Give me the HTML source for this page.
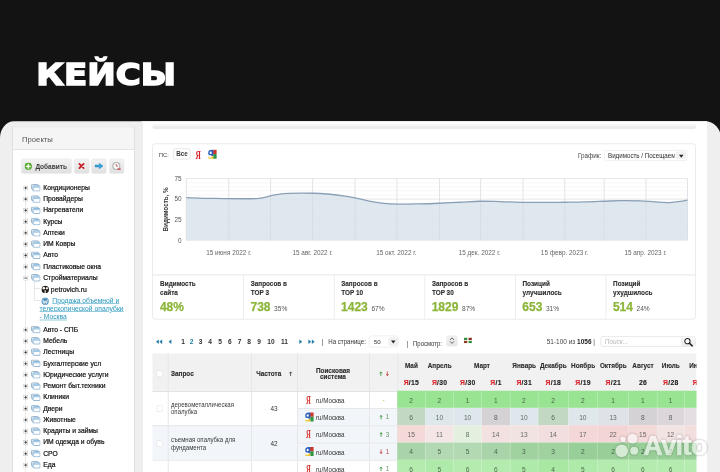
<!DOCTYPE html><html lang="ru"><head><meta charset="utf-8"><title>Кейсы</title><style>
*{box-sizing:border-box}
html,body{margin:0;padding:0}
body{width:2880px;height:1888px;overflow:hidden;background:#131313;position:relative;font-family:"Liberation Sans",sans-serif;color:#333}
#wrap{position:absolute;left:0;top:0;width:2880px;height:1888px;overflow:hidden}
.abs{position:absolute}
.t{position:absolute;white-space:nowrap;line-height:1}
h1{position:absolute;margin:0;left:145.2px;top:218px;font-family:"DejaVu Sans","Liberation Sans",sans-serif;font-weight:bold;font-size:124px;line-height:160px;color:#fff;letter-spacing:0;-webkit-text-stroke:6.2px #fff;transform:scaleX(1.097);transform-origin:0 0;white-space:nowrap}
#panel{position:absolute;left:0;top:484.8px;width:2884px;height:1440px;background:#efefef;border-radius:56px 64px 0 0 / 68px 68px 0 0;overflow:hidden}
#side{position:absolute;left:48px;top:506px;width:492px;height:1400px;background:#fff;border:4px solid #e0e0e0}
#sidehead{position:absolute;left:0;top:0;width:100%;height:90.4px;background:#f5f5f5;border-bottom:4px solid #e4e4e4}
#main{position:absolute;left:566.4px;top:484.8px;width:2261.6px;height:1440px;background:#fff;border-left:4px solid #e2e2e2}
.btn{position:absolute;top:635.2px;height:60px;border-radius:10px;background:linear-gradient(#f3f3f3,#e0e0e0);border:2.4px solid #dfdfdf}
.tree{font-size:27px;color:#111;-webkit-text-stroke-width:0.8px}
.card{position:absolute;background:#fff;border:4px solid #ebebeb}
.b{font-weight:bold}
.lbl{font-size:25.6px;font-weight:bold;color:#2c2c2c;-webkit-text-stroke-width:0.4px}
.big{font-size:48px;font-weight:bold;color:#8cb63a;-webkit-text-stroke-width:1px}
.pct{font-size:26.4px;color:#555}
.pg{font-size:26.4px;font-weight:bold;color:#333}
.th{font-size:25.6px;font-weight:bold;color:#2c2c2c;text-align:center;-webkit-text-stroke-width:0.48px}
.cell{position:absolute;font-size:26.4px;color:rgba(20,35,20,.66);text-align:center;line-height:76.4px;height:69.2px;overflow:hidden}
#outer{position:absolute;left:0;top:0;width:720px;height:472px;overflow:hidden;filter:contrast(1.0001)} #scaler{position:absolute;left:0;top:0;width:2880px;height:1888px;transform:scale(0.25);transform-origin:0 0}
body{width:720px;height:472px}</style></head><body>
<div id="outer"><div id="scaler"><div id="wrap">
<h1>КЕЙСЫ</h1>
<div id="panel"></div>
<div id="main"></div>
<div class="abs" style="left:610px;top:497.2px;width:2174px;height:18.4px;background:linear-gradient(#f5f5f5 0%,#f3f3f3 42%,#ececec 52%,#ececec 100%);border-radius:0 0 10px 10px"></div>
<div id="side"><div id="sidehead"></div></div>
<div class="t" style="left:88px;top:541.6px;font-size:30.8px;color:#555">Проекты</div>
<div class="btn" style="left:84px;width:204px"></div>
<div class="btn" style="left:296px;width:61.6px"></div>
<div class="btn" style="left:365.2px;width:61.2px"></div>
<div class="btn" style="left:436px;width:60.8px"></div>
<svg class="abs" style="left:98px;top:649.6px" width="30.4" height="30.4" viewBox="0 0 18 18"><circle cx="9" cy="9" r="8.2" fill="#62b437" stroke="#4a9a28" stroke-width="1.2"/><path d="M9 4.6v8.8M4.6 9h8.8" stroke="#fff" stroke-width="3" stroke-linecap="round"/></svg>
<div class="t b" style="left:141.6px;top:652px;font-size:26px;color:#3c3c3c">Добавить</div>
<svg class="abs" style="left:312.4px;top:650.4px" width="28" height="27.2" viewBox="0 0 14 14"><path d="M2.6 2.6L11.4 11.4M11.4 2.6L2.6 11.4" stroke="#c5222b" stroke-width="3.6" stroke-linecap="round"/></svg>
<svg class="abs" style="left:377.6px;top:651.2px" width="36" height="26.4" viewBox="0 0 18 13"><path d="M1 4.6h8.6V1L17 6.5l-7.4 5.5V8.4H1z" fill="#36a3dc" stroke="#2886bd" stroke-width="1"/></svg>
<svg class="abs" style="left:448px;top:647.2px" width="38.4" height="36" viewBox="0 0 20 19"><circle cx="9" cy="9" r="7.4" fill="#fafafa" stroke="#b4b4b4" stroke-width="2.4"/><path d="M9 4.8V9.4h3.6" stroke="#a83a3a" stroke-width="1.5" fill="none"/><path d="M11.6 15.4h6.6" stroke="#c4393d" stroke-width="2.6"/></svg>
<div class="abs" style="left:100.8px;top:751.6px;width:0;height:1200px;border-left:2.8px dotted #aaa"></div>
<svg class="abs" style="left:92.8px;top:742px" width="19.2" height="19.2" viewBox="0 0 10 10"><rect x="0.6" y="0.6" width="8.8" height="8.8" fill="#fff" stroke="#b9b9b9" stroke-width="1.1"/><path d="M2.2 5h5.6M5 2.2v5.6" stroke="#1a1a1a" stroke-width="1.5"/></svg>
<svg class="abs" style="left:124px;top:735.6px" width="38.4" height="30.4" viewBox="0 0 19 15"><rect x="1" y="1" width="13.5" height="9.5" rx="1.8" fill="#ddebf5" stroke="#86a7c2" stroke-width="1.5"/><rect x="4.2" y="3.8" width="13.8" height="10.2" rx="1.8" fill="#fff" stroke="#6f9fc6" stroke-width="1.5"/><rect x="5" y="4.6" width="12.2" height="2.8" fill="#9fc9e8"/></svg>
<div class="t tree" style="left:172.8px;top:736.8px">Кондиционеры</div>
<svg class="abs" style="left:92.8px;top:787.08px" width="19.2" height="19.2" viewBox="0 0 10 10"><rect x="0.6" y="0.6" width="8.8" height="8.8" fill="#fff" stroke="#b9b9b9" stroke-width="1.1"/><path d="M2.2 5h5.6M5 2.2v5.6" stroke="#1a1a1a" stroke-width="1.5"/></svg>
<svg class="abs" style="left:124px;top:780.68px" width="38.4" height="30.4" viewBox="0 0 19 15"><rect x="1" y="1" width="13.5" height="9.5" rx="1.8" fill="#ddebf5" stroke="#86a7c2" stroke-width="1.5"/><rect x="4.2" y="3.8" width="13.8" height="10.2" rx="1.8" fill="#fff" stroke="#6f9fc6" stroke-width="1.5"/><rect x="5" y="4.6" width="12.2" height="2.8" fill="#9fc9e8"/></svg>
<div class="t tree" style="left:172.8px;top:781.88px">Провайдеры</div>
<svg class="abs" style="left:92.8px;top:832.16px" width="19.2" height="19.2" viewBox="0 0 10 10"><rect x="0.6" y="0.6" width="8.8" height="8.8" fill="#fff" stroke="#b9b9b9" stroke-width="1.1"/><path d="M2.2 5h5.6M5 2.2v5.6" stroke="#1a1a1a" stroke-width="1.5"/></svg>
<svg class="abs" style="left:124px;top:825.76px" width="38.4" height="30.4" viewBox="0 0 19 15"><rect x="1" y="1" width="13.5" height="9.5" rx="1.8" fill="#ddebf5" stroke="#86a7c2" stroke-width="1.5"/><rect x="4.2" y="3.8" width="13.8" height="10.2" rx="1.8" fill="#fff" stroke="#6f9fc6" stroke-width="1.5"/><rect x="5" y="4.6" width="12.2" height="2.8" fill="#9fc9e8"/></svg>
<div class="t tree" style="left:172.8px;top:826.96px">Нагреватели</div>
<svg class="abs" style="left:92.8px;top:877.24px" width="19.2" height="19.2" viewBox="0 0 10 10"><rect x="0.6" y="0.6" width="8.8" height="8.8" fill="#fff" stroke="#b9b9b9" stroke-width="1.1"/><path d="M2.2 5h5.6M5 2.2v5.6" stroke="#1a1a1a" stroke-width="1.5"/></svg>
<svg class="abs" style="left:124px;top:870.84px" width="38.4" height="30.4" viewBox="0 0 19 15"><rect x="1" y="1" width="13.5" height="9.5" rx="1.8" fill="#ddebf5" stroke="#86a7c2" stroke-width="1.5"/><rect x="4.2" y="3.8" width="13.8" height="10.2" rx="1.8" fill="#fff" stroke="#6f9fc6" stroke-width="1.5"/><rect x="5" y="4.6" width="12.2" height="2.8" fill="#9fc9e8"/></svg>
<div class="t tree" style="left:172.8px;top:872.04px">Курсы</div>
<svg class="abs" style="left:92.8px;top:922.32px" width="19.2" height="19.2" viewBox="0 0 10 10"><rect x="0.6" y="0.6" width="8.8" height="8.8" fill="#fff" stroke="#b9b9b9" stroke-width="1.1"/><path d="M2.2 5h5.6M5 2.2v5.6" stroke="#1a1a1a" stroke-width="1.5"/></svg>
<svg class="abs" style="left:124px;top:915.92px" width="38.4" height="30.4" viewBox="0 0 19 15"><rect x="1" y="1" width="13.5" height="9.5" rx="1.8" fill="#ddebf5" stroke="#86a7c2" stroke-width="1.5"/><rect x="4.2" y="3.8" width="13.8" height="10.2" rx="1.8" fill="#fff" stroke="#6f9fc6" stroke-width="1.5"/><rect x="5" y="4.6" width="12.2" height="2.8" fill="#9fc9e8"/></svg>
<div class="t tree" style="left:172.8px;top:917.12px">Аптеки</div>
<svg class="abs" style="left:92.8px;top:967.4px" width="19.2" height="19.2" viewBox="0 0 10 10"><rect x="0.6" y="0.6" width="8.8" height="8.8" fill="#fff" stroke="#b9b9b9" stroke-width="1.1"/><path d="M2.2 5h5.6M5 2.2v5.6" stroke="#1a1a1a" stroke-width="1.5"/></svg>
<svg class="abs" style="left:124px;top:961px" width="38.4" height="30.4" viewBox="0 0 19 15"><rect x="1" y="1" width="13.5" height="9.5" rx="1.8" fill="#ddebf5" stroke="#86a7c2" stroke-width="1.5"/><rect x="4.2" y="3.8" width="13.8" height="10.2" rx="1.8" fill="#fff" stroke="#6f9fc6" stroke-width="1.5"/><rect x="5" y="4.6" width="12.2" height="2.8" fill="#9fc9e8"/></svg>
<div class="t tree" style="left:172.8px;top:962.2px">ИМ Ковры</div>
<svg class="abs" style="left:92.8px;top:1012.48px" width="19.2" height="19.2" viewBox="0 0 10 10"><rect x="0.6" y="0.6" width="8.8" height="8.8" fill="#fff" stroke="#b9b9b9" stroke-width="1.1"/><path d="M2.2 5h5.6M5 2.2v5.6" stroke="#1a1a1a" stroke-width="1.5"/></svg>
<svg class="abs" style="left:124px;top:1006.08px" width="38.4" height="30.4" viewBox="0 0 19 15"><rect x="1" y="1" width="13.5" height="9.5" rx="1.8" fill="#ddebf5" stroke="#86a7c2" stroke-width="1.5"/><rect x="4.2" y="3.8" width="13.8" height="10.2" rx="1.8" fill="#fff" stroke="#6f9fc6" stroke-width="1.5"/><rect x="5" y="4.6" width="12.2" height="2.8" fill="#9fc9e8"/></svg>
<div class="t tree" style="left:172.8px;top:1007.28px">Авто</div>
<svg class="abs" style="left:92.8px;top:1057.56px" width="19.2" height="19.2" viewBox="0 0 10 10"><rect x="0.6" y="0.6" width="8.8" height="8.8" fill="#fff" stroke="#b9b9b9" stroke-width="1.1"/><path d="M2.2 5h5.6M5 2.2v5.6" stroke="#1a1a1a" stroke-width="1.5"/></svg>
<svg class="abs" style="left:124px;top:1051.16px" width="38.4" height="30.4" viewBox="0 0 19 15"><rect x="1" y="1" width="13.5" height="9.5" rx="1.8" fill="#ddebf5" stroke="#86a7c2" stroke-width="1.5"/><rect x="4.2" y="3.8" width="13.8" height="10.2" rx="1.8" fill="#fff" stroke="#6f9fc6" stroke-width="1.5"/><rect x="5" y="4.6" width="12.2" height="2.8" fill="#9fc9e8"/></svg>
<div class="t tree" style="left:172.8px;top:1052.36px">Пластиковые окна</div>
<svg class="abs" style="left:92.8px;top:1102.64px" width="19.2" height="19.2" viewBox="0 0 10 10"><rect x="0.6" y="0.6" width="8.8" height="8.8" fill="#fff" stroke="#b9b9b9" stroke-width="1.1"/><path d="M2.2 5h5.6" stroke="#1a1a1a" stroke-width="1.5"/></svg>
<svg class="abs" style="left:124px;top:1096.24px" width="38.4" height="30.4" viewBox="0 0 19 15"><rect x="1" y="1" width="13.5" height="9.5" rx="1.8" fill="#ddebf5" stroke="#86a7c2" stroke-width="1.5"/><rect x="4.2" y="3.8" width="13.8" height="10.2" rx="1.8" fill="#fff" stroke="#6f9fc6" stroke-width="1.5"/><rect x="5" y="4.6" width="12.2" height="2.8" fill="#9fc9e8"/></svg>
<div class="t tree" style="left:172.8px;top:1097.44px">Стройматериалы</div>
<div class="abs" style="left:137.6px;top:1128px;width:0;height:73.6px;border-left:2.8px solid #cfcfcf"></div>
<div class="abs" style="left:137.6px;top:1154.4px;width:24px;height:0;border-top:2.8px solid #cfcfcf"></div>
<div class="abs" style="left:137.6px;top:1200.8px;width:24px;height:0;border-top:2.8px solid #cfcfcf"></div>
<svg class="abs" style="left:164.8px;top:1141.72px" width="32" height="31.2" viewBox="0 0 16 16"><circle cx="8" cy="8" r="7.6" fill="#1c1816"/><ellipse cx="5" cy="5.4" rx="2.6" ry="3" fill="#f4f0ec"/><ellipse cx="11.4" cy="5.6" rx="2.2" ry="2.6" fill="#e9e2dc"/><path d="M6.6 9.5h2.8l0.6 5.5h-4z" fill="#d9c4b8"/></svg>
<div class="t tree" style="left:203.2px;top:1145.32px;font-size:27.6px">petrovich.ru</div>
<svg class="abs" style="left:164.8px;top:1188.8px" width="31.2" height="31.2" viewBox="0 0 16 16"><circle cx="8" cy="8" r="7.4" fill="#3c82b4"/><circle cx="8" cy="8" r="6" fill="none" stroke="#e8f1f7" stroke-width="0.9"/><path d="M3.4 5.6l2.5 6.8 2.1-5.4 2.1 5.4 2.5-6.8" fill="none" stroke="#fff" stroke-width="1.7"/></svg>
<div class="abs tree" style="left:158.4px;top:1185.6px;width:392px;line-height:33.2px;color:#2696bd;-webkit-text-stroke-width:0;text-decoration:underline;text-indent:50.8px;white-space:nowrap">Продажа объемной и<br>телескопической опалубки<br>- Москва</div>
<svg class="abs" style="left:92.8px;top:1309.6px" width="19.2" height="19.2" viewBox="0 0 10 10"><rect x="0.6" y="0.6" width="8.8" height="8.8" fill="#fff" stroke="#b9b9b9" stroke-width="1.1"/><path d="M2.2 5h5.6M5 2.2v5.6" stroke="#1a1a1a" stroke-width="1.5"/></svg>
<svg class="abs" style="left:124px;top:1303.2px" width="38.4" height="30.4" viewBox="0 0 19 15"><rect x="1" y="1" width="13.5" height="9.5" rx="1.8" fill="#ddebf5" stroke="#86a7c2" stroke-width="1.5"/><rect x="4.2" y="3.8" width="13.8" height="10.2" rx="1.8" fill="#fff" stroke="#6f9fc6" stroke-width="1.5"/><rect x="5" y="4.6" width="12.2" height="2.8" fill="#9fc9e8"/></svg>
<div class="t tree" style="left:172.8px;top:1304.4px">Авто - СПБ</div>
<svg class="abs" style="left:92.8px;top:1354.68px" width="19.2" height="19.2" viewBox="0 0 10 10"><rect x="0.6" y="0.6" width="8.8" height="8.8" fill="#fff" stroke="#b9b9b9" stroke-width="1.1"/><path d="M2.2 5h5.6M5 2.2v5.6" stroke="#1a1a1a" stroke-width="1.5"/></svg>
<svg class="abs" style="left:124px;top:1348.28px" width="38.4" height="30.4" viewBox="0 0 19 15"><rect x="1" y="1" width="13.5" height="9.5" rx="1.8" fill="#ddebf5" stroke="#86a7c2" stroke-width="1.5"/><rect x="4.2" y="3.8" width="13.8" height="10.2" rx="1.8" fill="#fff" stroke="#6f9fc6" stroke-width="1.5"/><rect x="5" y="4.6" width="12.2" height="2.8" fill="#9fc9e8"/></svg>
<div class="t tree" style="left:172.8px;top:1349.48px">Мебель</div>
<svg class="abs" style="left:92.8px;top:1399.76px" width="19.2" height="19.2" viewBox="0 0 10 10"><rect x="0.6" y="0.6" width="8.8" height="8.8" fill="#fff" stroke="#b9b9b9" stroke-width="1.1"/><path d="M2.2 5h5.6M5 2.2v5.6" stroke="#1a1a1a" stroke-width="1.5"/></svg>
<svg class="abs" style="left:124px;top:1393.36px" width="38.4" height="30.4" viewBox="0 0 19 15"><rect x="1" y="1" width="13.5" height="9.5" rx="1.8" fill="#ddebf5" stroke="#86a7c2" stroke-width="1.5"/><rect x="4.2" y="3.8" width="13.8" height="10.2" rx="1.8" fill="#fff" stroke="#6f9fc6" stroke-width="1.5"/><rect x="5" y="4.6" width="12.2" height="2.8" fill="#9fc9e8"/></svg>
<div class="t tree" style="left:172.8px;top:1394.56px">Лестницы</div>
<svg class="abs" style="left:92.8px;top:1444.84px" width="19.2" height="19.2" viewBox="0 0 10 10"><rect x="0.6" y="0.6" width="8.8" height="8.8" fill="#fff" stroke="#b9b9b9" stroke-width="1.1"/><path d="M2.2 5h5.6M5 2.2v5.6" stroke="#1a1a1a" stroke-width="1.5"/></svg>
<svg class="abs" style="left:124px;top:1438.44px" width="38.4" height="30.4" viewBox="0 0 19 15"><rect x="1" y="1" width="13.5" height="9.5" rx="1.8" fill="#ddebf5" stroke="#86a7c2" stroke-width="1.5"/><rect x="4.2" y="3.8" width="13.8" height="10.2" rx="1.8" fill="#fff" stroke="#6f9fc6" stroke-width="1.5"/><rect x="5" y="4.6" width="12.2" height="2.8" fill="#9fc9e8"/></svg>
<div class="t tree" style="left:172.8px;top:1439.64px">Бухгалтерские усл</div>
<svg class="abs" style="left:92.8px;top:1489.92px" width="19.2" height="19.2" viewBox="0 0 10 10"><rect x="0.6" y="0.6" width="8.8" height="8.8" fill="#fff" stroke="#b9b9b9" stroke-width="1.1"/><path d="M2.2 5h5.6M5 2.2v5.6" stroke="#1a1a1a" stroke-width="1.5"/></svg>
<svg class="abs" style="left:124px;top:1483.52px" width="38.4" height="30.4" viewBox="0 0 19 15"><rect x="1" y="1" width="13.5" height="9.5" rx="1.8" fill="#ddebf5" stroke="#86a7c2" stroke-width="1.5"/><rect x="4.2" y="3.8" width="13.8" height="10.2" rx="1.8" fill="#fff" stroke="#6f9fc6" stroke-width="1.5"/><rect x="5" y="4.6" width="12.2" height="2.8" fill="#9fc9e8"/></svg>
<div class="t tree" style="left:172.8px;top:1484.72px">Юридические услуги</div>
<svg class="abs" style="left:92.8px;top:1535px" width="19.2" height="19.2" viewBox="0 0 10 10"><rect x="0.6" y="0.6" width="8.8" height="8.8" fill="#fff" stroke="#b9b9b9" stroke-width="1.1"/><path d="M2.2 5h5.6M5 2.2v5.6" stroke="#1a1a1a" stroke-width="1.5"/></svg>
<svg class="abs" style="left:124px;top:1528.6px" width="38.4" height="30.4" viewBox="0 0 19 15"><rect x="1" y="1" width="13.5" height="9.5" rx="1.8" fill="#ddebf5" stroke="#86a7c2" stroke-width="1.5"/><rect x="4.2" y="3.8" width="13.8" height="10.2" rx="1.8" fill="#fff" stroke="#6f9fc6" stroke-width="1.5"/><rect x="5" y="4.6" width="12.2" height="2.8" fill="#9fc9e8"/></svg>
<div class="t tree" style="left:172.8px;top:1529.8px">Ремонт быт.техники</div>
<svg class="abs" style="left:92.8px;top:1580.08px" width="19.2" height="19.2" viewBox="0 0 10 10"><rect x="0.6" y="0.6" width="8.8" height="8.8" fill="#fff" stroke="#b9b9b9" stroke-width="1.1"/><path d="M2.2 5h5.6M5 2.2v5.6" stroke="#1a1a1a" stroke-width="1.5"/></svg>
<svg class="abs" style="left:124px;top:1573.68px" width="38.4" height="30.4" viewBox="0 0 19 15"><rect x="1" y="1" width="13.5" height="9.5" rx="1.8" fill="#ddebf5" stroke="#86a7c2" stroke-width="1.5"/><rect x="4.2" y="3.8" width="13.8" height="10.2" rx="1.8" fill="#fff" stroke="#6f9fc6" stroke-width="1.5"/><rect x="5" y="4.6" width="12.2" height="2.8" fill="#9fc9e8"/></svg>
<div class="t tree" style="left:172.8px;top:1574.88px">Клиники</div>
<svg class="abs" style="left:92.8px;top:1625.16px" width="19.2" height="19.2" viewBox="0 0 10 10"><rect x="0.6" y="0.6" width="8.8" height="8.8" fill="#fff" stroke="#b9b9b9" stroke-width="1.1"/><path d="M2.2 5h5.6M5 2.2v5.6" stroke="#1a1a1a" stroke-width="1.5"/></svg>
<svg class="abs" style="left:124px;top:1618.76px" width="38.4" height="30.4" viewBox="0 0 19 15"><rect x="1" y="1" width="13.5" height="9.5" rx="1.8" fill="#ddebf5" stroke="#86a7c2" stroke-width="1.5"/><rect x="4.2" y="3.8" width="13.8" height="10.2" rx="1.8" fill="#fff" stroke="#6f9fc6" stroke-width="1.5"/><rect x="5" y="4.6" width="12.2" height="2.8" fill="#9fc9e8"/></svg>
<div class="t tree" style="left:172.8px;top:1619.96px">Двери</div>
<svg class="abs" style="left:92.8px;top:1670.24px" width="19.2" height="19.2" viewBox="0 0 10 10"><rect x="0.6" y="0.6" width="8.8" height="8.8" fill="#fff" stroke="#b9b9b9" stroke-width="1.1"/><path d="M2.2 5h5.6M5 2.2v5.6" stroke="#1a1a1a" stroke-width="1.5"/></svg>
<svg class="abs" style="left:124px;top:1663.84px" width="38.4" height="30.4" viewBox="0 0 19 15"><rect x="1" y="1" width="13.5" height="9.5" rx="1.8" fill="#ddebf5" stroke="#86a7c2" stroke-width="1.5"/><rect x="4.2" y="3.8" width="13.8" height="10.2" rx="1.8" fill="#fff" stroke="#6f9fc6" stroke-width="1.5"/><rect x="5" y="4.6" width="12.2" height="2.8" fill="#9fc9e8"/></svg>
<div class="t tree" style="left:172.8px;top:1665.04px">Животные</div>
<svg class="abs" style="left:92.8px;top:1715.32px" width="19.2" height="19.2" viewBox="0 0 10 10"><rect x="0.6" y="0.6" width="8.8" height="8.8" fill="#fff" stroke="#b9b9b9" stroke-width="1.1"/><path d="M2.2 5h5.6M5 2.2v5.6" stroke="#1a1a1a" stroke-width="1.5"/></svg>
<svg class="abs" style="left:124px;top:1708.92px" width="38.4" height="30.4" viewBox="0 0 19 15"><rect x="1" y="1" width="13.5" height="9.5" rx="1.8" fill="#ddebf5" stroke="#86a7c2" stroke-width="1.5"/><rect x="4.2" y="3.8" width="13.8" height="10.2" rx="1.8" fill="#fff" stroke="#6f9fc6" stroke-width="1.5"/><rect x="5" y="4.6" width="12.2" height="2.8" fill="#9fc9e8"/></svg>
<div class="t tree" style="left:172.8px;top:1710.12px">Крадиты и займы</div>
<svg class="abs" style="left:92.8px;top:1760.4px" width="19.2" height="19.2" viewBox="0 0 10 10"><rect x="0.6" y="0.6" width="8.8" height="8.8" fill="#fff" stroke="#b9b9b9" stroke-width="1.1"/><path d="M2.2 5h5.6M5 2.2v5.6" stroke="#1a1a1a" stroke-width="1.5"/></svg>
<svg class="abs" style="left:124px;top:1754px" width="38.4" height="30.4" viewBox="0 0 19 15"><rect x="1" y="1" width="13.5" height="9.5" rx="1.8" fill="#ddebf5" stroke="#86a7c2" stroke-width="1.5"/><rect x="4.2" y="3.8" width="13.8" height="10.2" rx="1.8" fill="#fff" stroke="#6f9fc6" stroke-width="1.5"/><rect x="5" y="4.6" width="12.2" height="2.8" fill="#9fc9e8"/></svg>
<div class="t tree" style="left:172.8px;top:1755.2px">ИМ одежда и обувь</div>
<svg class="abs" style="left:92.8px;top:1805.48px" width="19.2" height="19.2" viewBox="0 0 10 10"><rect x="0.6" y="0.6" width="8.8" height="8.8" fill="#fff" stroke="#b9b9b9" stroke-width="1.1"/><path d="M2.2 5h5.6M5 2.2v5.6" stroke="#1a1a1a" stroke-width="1.5"/></svg>
<svg class="abs" style="left:124px;top:1799.08px" width="38.4" height="30.4" viewBox="0 0 19 15"><rect x="1" y="1" width="13.5" height="9.5" rx="1.8" fill="#ddebf5" stroke="#86a7c2" stroke-width="1.5"/><rect x="4.2" y="3.8" width="13.8" height="10.2" rx="1.8" fill="#fff" stroke="#6f9fc6" stroke-width="1.5"/><rect x="5" y="4.6" width="12.2" height="2.8" fill="#9fc9e8"/></svg>
<div class="t tree" style="left:172.8px;top:1800.28px">СРО</div>
<svg class="abs" style="left:92.8px;top:1850.56px" width="19.2" height="19.2" viewBox="0 0 10 10"><rect x="0.6" y="0.6" width="8.8" height="8.8" fill="#fff" stroke="#b9b9b9" stroke-width="1.1"/><path d="M2.2 5h5.6M5 2.2v5.6" stroke="#1a1a1a" stroke-width="1.5"/></svg>
<svg class="abs" style="left:124px;top:1844.16px" width="38.4" height="30.4" viewBox="0 0 19 15"><rect x="1" y="1" width="13.5" height="9.5" rx="1.8" fill="#ddebf5" stroke="#86a7c2" stroke-width="1.5"/><rect x="4.2" y="3.8" width="13.8" height="10.2" rx="1.8" fill="#fff" stroke="#6f9fc6" stroke-width="1.5"/><rect x="5" y="4.6" width="12.2" height="2.8" fill="#9fc9e8"/></svg>
<div class="t tree" style="left:172.8px;top:1845.36px">Еда</div>
<svg class="abs" style="left:92.8px;top:1895.64px" width="19.2" height="19.2" viewBox="0 0 10 10"><rect x="0.6" y="0.6" width="8.8" height="8.8" fill="#fff" stroke="#b9b9b9" stroke-width="1.1"/><path d="M2.2 5h5.6M5 2.2v5.6" stroke="#1a1a1a" stroke-width="1.5"/></svg>
<svg class="abs" style="left:124px;top:1889.24px" width="38.4" height="30.4" viewBox="0 0 19 15"><rect x="1" y="1" width="13.5" height="9.5" rx="1.8" fill="#ddebf5" stroke="#86a7c2" stroke-width="1.5"/><rect x="4.2" y="3.8" width="13.8" height="10.2" rx="1.8" fill="#fff" stroke="#6f9fc6" stroke-width="1.5"/><rect x="5" y="4.6" width="12.2" height="2.8" fill="#9fc9e8"/></svg>
<div class="card" style="left:608.4px;top:572.8px;width:2175.6px;height:529.6px;border-radius:12px 12px 0 0"></div>
<div class="t" style="left:635.2px;top:607.6px;font-size:23.6px;color:#444">ПС:</div>
<div class="abs" style="left:692px;top:592.8px;width:70.4px;height:45.6px;border:3.2px solid #e0e0e0;border-radius:10px;background:#fff"></div>
<div class="t b" style="left:705.2px;top:603.2px;font-size:25.2px;color:#3a3a3a">Все</div>
<div class="t b" style="left:781.6px;top:595.6px;font-size:47.2px;color:#d3222a;font-family:'Liberation Serif',serif;transform:scaleX(.62);transform-origin:0 0">Я</div>
<svg class="abs" style="left:830px;top:596.8px" width="38.4" height="40" viewBox="0 0 20 20" preserveAspectRatio="none"><rect x="0.5" y="0.5" width="19" height="19" rx="2" fill="#fff"/><rect x="11.5" y="1" width="7.5" height="8.5" fill="#cb3a30"/><rect x="12" y="9.5" width="7" height="9.5" fill="#2f9444"/><rect x="2" y="14" width="10" height="5" fill="#ecc530"/><path d="M1.5 6.5C1.5 3 4 1 8 1h4v12.5H7C3.5 13.5 1.5 11 1.5 8z" fill="#2f62b8"/><ellipse cx="6.6" cy="7" rx="2.2" ry="2.6" fill="#fff"/><ellipse cx="5.6" cy="14.4" rx="3.4" ry="2.3" fill="#fff"/></svg>
<div class="t" style="left:2312px;top:608px;font-size:27.2px;color:#444;transform:scaleX(.925);transform-origin:0 0">График:</div>
<div class="abs" style="left:2416px;top:600px;width:334.4px;height:44px;border:3.2px solid #ebebeb;border-radius:10px;background:#fff;overflow:hidden"><div class="abs" style="left:284px;top:3.2px;width:41.6px;height:31.2px;border-radius:8px;background:#f1f1f1"></div><div class="t" style="left:12.8px;top:8.4px;font-size:26.8px;color:#2e2e2e;width:288px;overflow:hidden;transform:scaleX(.925);transform-origin:0 0">Видимость / Посещаемость</div><div class="abs" style="left:296.8px;top:16px;width:0;height:0;border-left:9.6px solid transparent;border-right:9.6px solid transparent;border-top:12.8px solid #222"></div></div>
<svg class="abs" style="left:0;top:0" width="2880" height="1888" viewBox="0 0 720 472"><line x1="186.3" x2="687.5" y1="236.09" y2="236.09" stroke="#f1f1f1" stroke-width="0.6"/><line x1="186.3" x2="687.5" y1="231.99" y2="231.99" stroke="#f1f1f1" stroke-width="0.6"/><line x1="186.3" x2="687.5" y1="227.88" y2="227.88" stroke="#f1f1f1" stroke-width="0.6"/><line x1="186.3" x2="687.5" y1="223.77" y2="223.77" stroke="#f1f1f1" stroke-width="0.6"/><line x1="186.3" x2="687.5" y1="215.56" y2="215.56" stroke="#f1f1f1" stroke-width="0.6"/><line x1="186.3" x2="687.5" y1="211.45" y2="211.45" stroke="#f1f1f1" stroke-width="0.6"/><line x1="186.3" x2="687.5" y1="207.35" y2="207.35" stroke="#f1f1f1" stroke-width="0.6"/><line x1="186.3" x2="687.5" y1="203.24" y2="203.24" stroke="#f1f1f1" stroke-width="0.6"/><line x1="186.3" x2="687.5" y1="195.03" y2="195.03" stroke="#f1f1f1" stroke-width="0.6"/><line x1="186.3" x2="687.5" y1="190.92" y2="190.92" stroke="#f1f1f1" stroke-width="0.6"/><line x1="186.3" x2="687.5" y1="186.81" y2="186.81" stroke="#f1f1f1" stroke-width="0.6"/><line x1="186.3" x2="687.5" y1="182.71" y2="182.71" stroke="#f1f1f1" stroke-width="0.6"/><line x1="186.3" x2="687.5" y1="240.20" y2="240.20" stroke="#dcdcdc" stroke-width="0.7"/><line x1="186.3" x2="687.5" y1="219.67" y2="219.67" stroke="#dcdcdc" stroke-width="0.7"/><line x1="186.3" x2="687.5" y1="199.13" y2="199.13" stroke="#dcdcdc" stroke-width="0.7"/><line x1="186.3" x2="687.5" y1="178.60" y2="178.60" stroke="#dcdcdc" stroke-width="0.7"/><path d="M186.30 197.65 C191.08 197.78 204.38 198.27 215.00 198.45 C225.62 198.63 242.17 198.83 250.00 198.75 C257.83 198.67 257.83 198.60 262.00 197.95 C266.17 197.30 270.67 195.60 275.00 194.85 C279.33 194.10 281.83 193.72 288.00 193.45 C294.17 193.18 305.00 193.12 312.00 193.25 C319.00 193.38 324.50 193.78 330.00 194.25 C335.50 194.72 340.83 195.45 345.00 196.05 C349.17 196.65 351.17 197.05 355.00 197.85 C358.83 198.65 363.83 200.02 368.00 200.85 C372.17 201.68 375.17 202.32 380.00 202.85 C384.83 203.38 390.33 203.88 397.00 204.05 C403.67 204.22 413.00 203.98 420.00 203.85 C427.00 203.72 432.33 203.52 439.00 203.25 C445.67 202.98 453.17 202.58 460.00 202.25 C466.83 201.92 473.33 201.37 480.00 201.25 C486.67 201.13 492.83 201.37 500.00 201.55 C507.17 201.73 515.50 202.20 523.00 202.35 C530.50 202.50 538.00 202.47 545.00 202.45 C552.00 202.43 558.33 202.33 565.00 202.25 C571.67 202.17 578.50 202.12 585.00 201.95 C591.50 201.78 598.17 201.47 604.00 201.25 C609.83 201.03 614.00 200.72 620.00 200.65 C626.00 200.58 634.17 200.65 640.00 200.85 C645.83 201.05 650.00 201.57 655.00 201.85 C660.00 202.13 665.83 202.62 670.00 202.55 C674.17 202.48 677.08 201.87 680.00 201.45 C682.92 201.03 686.25 200.28 687.50 200.05 L687.50 240.20 L186.30 240.20 Z" fill="#dde6ee" fill-opacity="0.92"/><line x1="186.3" x2="186.3" y1="178.60" y2="240.20" stroke="#d4d9de" stroke-width="0.7"/><line x1="228.8" x2="228.8" y1="178.60" y2="240.20" stroke="#d4d9de" stroke-width="0.7"/><line x1="270.6" x2="270.6" y1="178.60" y2="240.20" stroke="#d4d9de" stroke-width="0.7"/><line x1="312.6" x2="312.6" y1="178.60" y2="240.20" stroke="#d4d9de" stroke-width="0.7"/><line x1="355.0" x2="355.0" y1="178.60" y2="240.20" stroke="#d4d9de" stroke-width="0.7"/><line x1="397.0" x2="397.0" y1="178.60" y2="240.20" stroke="#d4d9de" stroke-width="0.7"/><line x1="439.5" x2="439.5" y1="178.60" y2="240.20" stroke="#d4d9de" stroke-width="0.7"/><line x1="480.6" x2="480.6" y1="178.60" y2="240.20" stroke="#d4d9de" stroke-width="0.7"/><line x1="523.0" x2="523.0" y1="178.60" y2="240.20" stroke="#d4d9de" stroke-width="0.7"/><line x1="564.8" x2="564.8" y1="178.60" y2="240.20" stroke="#d4d9de" stroke-width="0.7"/><line x1="604.2" x2="604.2" y1="178.60" y2="240.20" stroke="#d4d9de" stroke-width="0.7"/><line x1="646.0" x2="646.0" y1="178.60" y2="240.20" stroke="#d4d9de" stroke-width="0.7"/><line x1="687.5" x2="687.5" y1="178.60" y2="240.20" stroke="#d4d9de" stroke-width="0.7"/><path d="M186.30 197.65 C191.08 197.78 204.38 198.27 215.00 198.45 C225.62 198.63 242.17 198.83 250.00 198.75 C257.83 198.67 257.83 198.60 262.00 197.95 C266.17 197.30 270.67 195.60 275.00 194.85 C279.33 194.10 281.83 193.72 288.00 193.45 C294.17 193.18 305.00 193.12 312.00 193.25 C319.00 193.38 324.50 193.78 330.00 194.25 C335.50 194.72 340.83 195.45 345.00 196.05 C349.17 196.65 351.17 197.05 355.00 197.85 C358.83 198.65 363.83 200.02 368.00 200.85 C372.17 201.68 375.17 202.32 380.00 202.85 C384.83 203.38 390.33 203.88 397.00 204.05 C403.67 204.22 413.00 203.98 420.00 203.85 C427.00 203.72 432.33 203.52 439.00 203.25 C445.67 202.98 453.17 202.58 460.00 202.25 C466.83 201.92 473.33 201.37 480.00 201.25 C486.67 201.13 492.83 201.37 500.00 201.55 C507.17 201.73 515.50 202.20 523.00 202.35 C530.50 202.50 538.00 202.47 545.00 202.45 C552.00 202.43 558.33 202.33 565.00 202.25 C571.67 202.17 578.50 202.12 585.00 201.95 C591.50 201.78 598.17 201.47 604.00 201.25 C609.83 201.03 614.00 200.72 620.00 200.65 C626.00 200.58 634.17 200.65 640.00 200.85 C645.83 201.05 650.00 201.57 655.00 201.85 C660.00 202.13 665.83 202.62 670.00 202.55 C674.17 202.48 677.08 201.87 680.00 201.45 C682.92 201.03 686.25 200.28 687.50 200.05" fill="none" stroke="#8aa0b6" stroke-width="1.3"/><text x="181.6" y="242.50" font-size="6.4" fill="#555" text-anchor="end" font-family="Liberation Sans,sans-serif">0</text><text x="181.6" y="221.97" font-size="6.4" fill="#555" text-anchor="end" font-family="Liberation Sans,sans-serif">25</text><text x="181.6" y="201.43" font-size="6.4" fill="#555" text-anchor="end" font-family="Liberation Sans,sans-serif">50</text><text x="181.6" y="180.90" font-size="6.4" fill="#555" text-anchor="end" font-family="Liberation Sans,sans-serif">75</text><text transform="translate(167.6 209.4) rotate(-90)" font-size="6.3" font-weight="bold" fill="#333" text-anchor="middle" font-family="Liberation Sans,sans-serif">Видимость, %</text><text x="228.8" y="254.8" font-size="6.4" fill="#666" text-anchor="middle" font-family="Liberation Sans,sans-serif">15 июня 2022 г.</text><text x="312.6" y="254.8" font-size="6.4" fill="#666" text-anchor="middle" font-family="Liberation Sans,sans-serif">15 авг. 2022 г.</text><text x="396.4" y="254.8" font-size="6.4" fill="#666" text-anchor="middle" font-family="Liberation Sans,sans-serif">15 окт. 2022 г.</text><text x="479.6" y="254.8" font-size="6.4" fill="#666" text-anchor="middle" font-family="Liberation Sans,sans-serif">15 дек. 2022 г.</text><text x="564.6" y="254.8" font-size="6.4" fill="#666" text-anchor="middle" font-family="Liberation Sans,sans-serif">15 февр. 2023 г.</text><text x="645.6" y="254.8" font-size="6.4" fill="#666" text-anchor="middle" font-family="Liberation Sans,sans-serif">15 апр. 2023 г.</text></svg>
<div class="card" style="left:608.4px;top:1098.4px;width:2175.6px;height:180.8px;border-radius:0 0 12px 12px"></div>
<div class="t lbl" style="left:640.4px;top:1120.8px">Видимость</div>
<div class="t lbl" style="left:640.4px;top:1157.6px">сайта</div>
<div class="t" style="left:639.6px;top:1203.6px;font-size:48px"><span class="big">48%</span><span class="pct" style="margin-left:14.4px"></span></div>
<div class="abs" style="left:972.4px;top:1100px;width:0;height:176px;border-left:4px solid #ededed"></div>
<div class="t lbl" style="left:1002.8px;top:1120.8px">Запросов в</div>
<div class="t lbl" style="left:1002.8px;top:1157.6px">TOP 3</div>
<div class="t" style="left:1002px;top:1203.6px;font-size:48px"><span class="big">738</span><span class="pct" style="margin-left:14.4px">35%</span></div>
<div class="abs" style="left:1334.8px;top:1100px;width:0;height:176px;border-left:4px solid #ededed"></div>
<div class="t lbl" style="left:1365.2px;top:1120.8px">Запросов в</div>
<div class="t lbl" style="left:1365.2px;top:1157.6px">TOP 10</div>
<div class="t" style="left:1364.4px;top:1203.6px;font-size:48px"><span class="big">1423</span><span class="pct" style="margin-left:14.4px">67%</span></div>
<div class="abs" style="left:1697.2px;top:1100px;width:0;height:176px;border-left:4px solid #ededed"></div>
<div class="t lbl" style="left:1727.6px;top:1120.8px">Запросов в</div>
<div class="t lbl" style="left:1727.6px;top:1157.6px">TOP 30</div>
<div class="t" style="left:1726.8px;top:1203.6px;font-size:48px"><span class="big">1829</span><span class="pct" style="margin-left:14.4px">87%</span></div>
<div class="abs" style="left:2059.6px;top:1100px;width:0;height:176px;border-left:4px solid #ededed"></div>
<div class="t lbl" style="left:2090px;top:1120.8px">Позиций</div>
<div class="t lbl" style="left:2090px;top:1157.6px">улучшилось</div>
<div class="t" style="left:2089.2px;top:1203.6px;font-size:48px"><span class="big">653</span><span class="pct" style="margin-left:14.4px">31%</span></div>
<div class="abs" style="left:2422px;top:1100px;width:0;height:176px;border-left:4px solid #ededed"></div>
<div class="t lbl" style="left:2452.4px;top:1120.8px">Позиций</div>
<div class="t lbl" style="left:2452.4px;top:1157.6px">ухудшилось</div>
<div class="t" style="left:2451.6px;top:1203.6px;font-size:48px"><span class="big">514</span><span class="pct" style="margin-left:14.4px">24%</span></div>
<svg class="abs" style="left:0;top:0" width="2880" height="1888" viewBox="0 0 720 472"><polygon points="158.8,339.5 156.0,341.8 158.8,344.1" fill="#2079a3"/><polygon points="162.2,339.5 159.4,341.8 162.2,344.1" fill="#2079a3"/><polygon points="171.4,339.5 168.6,341.8 171.4,344.1" fill="#2079a3"/><polygon points="299.4,339.5 302.2,341.8 299.4,344.1" fill="#2079a3"/><polygon points="308.4,339.5 311.2,341.8 308.4,344.1" fill="#2079a3"/><polygon points="311.8,339.5 314.6,341.8 311.8,344.1" fill="#2079a3"/></svg>
<div class="t pg" style="left:732px;top:1354.4px;width:80px;margin-left:-40px;text-align:center;color:#333">1</div>
<div class="t pg" style="left:766.4px;top:1354.4px;width:80px;margin-left:-40px;text-align:center;color:#1a7fa3">2</div>
<div class="t pg" style="left:802.4px;top:1354.4px;width:80px;margin-left:-40px;text-align:center;color:#333">3</div>
<div class="t pg" style="left:840.8px;top:1354.4px;width:80px;margin-left:-40px;text-align:center;color:#333">4</div>
<div class="t pg" style="left:880px;top:1354.4px;width:80px;margin-left:-40px;text-align:center;color:#333">5</div>
<div class="t pg" style="left:919.2px;top:1354.4px;width:80px;margin-left:-40px;text-align:center;color:#333">6</div>
<div class="t pg" style="left:958.4px;top:1354.4px;width:80px;margin-left:-40px;text-align:center;color:#333">7</div>
<div class="t pg" style="left:996.8px;top:1354.4px;width:80px;margin-left:-40px;text-align:center;color:#333">8</div>
<div class="t pg" style="left:1036px;top:1354.4px;width:80px;margin-left:-40px;text-align:center;color:#333">9</div>
<div class="t pg" style="left:1084px;top:1354.4px;width:80px;margin-left:-40px;text-align:center;color:#333">10</div>
<div class="t pg" style="left:1137.6px;top:1354.4px;width:80px;margin-left:-40px;text-align:center;color:#333">11</div>
<div class="t" style="left:1286.4px;top:1354.4px;font-size:26.6px;color:#333;transform:scaleX(.925);transform-origin:0 0">|&nbsp;&nbsp; На странице:</div>
<div class="abs" style="left:1475.2px;top:1342.4px;width:120px;height:48px;border:3.2px solid #ececec;border-radius:10px;background:#fff"><div class="t" style="left:16.8px;top:10.4px;font-size:24.8px;color:#333">50</div><div class="abs" style="left:76px;top:4px;width:37.6px;height:34.4px;border-radius:8px;background:#f0f0f0"></div><div class="abs" style="left:85.6px;top:16.8px;width:0;height:0;border-left:9.6px solid transparent;border-right:9.6px solid transparent;border-top:12.8px solid #222"></div></div>
<div class="t" style="left:1625.6px;top:1363.2px;font-size:25.8px;color:#333;transform:scaleX(.925);transform-origin:0 0">|&nbsp;&nbsp; Просмотр:</div>
<div class="abs" style="left:1784.8px;top:1342.4px;width:45.6px;height:43.2px;border-radius:10px;background:linear-gradient(#f2f2f2,#e6e6e6);border:2.4px solid #e4e4e4"></div>
<svg class="abs" style="left:1796px;top:1347.2px" width="24" height="31.2" viewBox="0 0 10 14"><path d="M1.4 5.8L5 2l3.6 3.8M1.4 8.2L5 12l3.6-3.8" fill="none" stroke="#555" stroke-width="1.6"/></svg>
<svg class="abs" style="left:1854.4px;top:1348.8px" width="35.2" height="25.6" viewBox="0 0 18 13"><rect x="0" y="0" width="18" height="13" fill="#f6f7e6"/><rect x="1" y="1" width="6.6" height="4.6" fill="#2c8c48"/><rect x="10.4" y="1" width="6.6" height="4.6" fill="#8c2a2c"/><rect x="1" y="7.4" width="6.6" height="4.6" fill="#8e3828"/><rect x="10.4" y="7.4" width="6.6" height="4.6" fill="#2c8c48"/></svg>
<div class="t" style="left:2187.2px;top:1354px;font-size:28px;color:#444;transform:scaleX(.925);transform-origin:0 0">51-100 из <b style="color:#222">1056</b> |</div>
<div class="abs" style="left:2401.6px;top:1344px;width:381.6px;height:43.2px;border:3.2px solid #e0e0e0;border-radius:10px;background:#fff"><div class="t" style="left:14.4px;top:8px;font-size:25.6px;color:#b5b5b5;font-style:italic">Поиск...</div><div class="abs" style="left:321.6px;top:0;width:56px;height:100%;border-left:3.2px solid #ddd;background:linear-gradient(#fafafa,#ececec)"></div><svg class="abs" style="left:330.4px;top:3.2px" width="36.8" height="36.8" viewBox="0 0 16 16"><circle cx="6.4" cy="6.4" r="4.6" fill="#fff" stroke="#222" stroke-width="1.8"/><path d="M10 10l4.6 4.6" stroke="#222" stroke-width="2.6" stroke-linecap="round"/></svg></div>
<div class="abs" style="left:609.2px;top:1412.8px;width:2177.2px;height:480px;overflow:hidden">
<div class="abs" style="left:0;top:0;width:100%;height:152.8px;background:#f1f1f1"></div>
<div class="abs" style="left:0;top:150.4px;width:980px;height:138px;background:#fff"></div>
<div class="abs" style="left:0;top:288.4px;width:980px;height:138px;background:#f2f6fa"></div>
<div class="abs" style="left:0;top:426.4px;width:980px;height:138px;background:#fff"></div>
<div class="abs" style="left:578.8px;top:219.6px;width:401.2px;height:69px;background:#f2f6fa"></div>
<div class="abs" style="left:578.8px;top:357.6px;width:401.2px;height:69px;background:#f2f6fa"></div>
<div class="abs" style="left:62px;top:0;width:0;height:480px;border-left:4px solid #e7e7e7"></div>
<div class="abs" style="left:394.8px;top:0;width:0;height:480px;border-left:4px solid #e7e7e7"></div>
<div class="abs" style="left:578.8px;top:0;width:0;height:480px;border-left:4px solid #e7e7e7"></div>
<div class="abs" style="left:866.8px;top:0;width:0;height:480px;border-left:4px solid #e7e7e7"></div>
<div class="abs" style="left:980px;top:0;width:0;height:480px;border-left:4px solid #e7e7e7"></div>
<div class="abs" style="left:0;top:151.2px;width:100%;height:0;border-top:4px solid #e2e2e2"></div>
<div class="abs" style="left:0;top:288.4px;width:980px;height:0;border-top:4px solid #e7e7e7"></div>
<div class="abs" style="left:0;top:426.4px;width:980px;height:0;border-top:4px solid #e7e7e7"></div>
<div class="abs" style="left:578.8px;top:219.6px;width:401.2px;height:0;border-top:4px solid #e7e7e7"></div>
<div class="abs" style="left:578.8px;top:357.6px;width:401.2px;height:0;border-top:4px solid #e7e7e7"></div>
<div class="abs" style="left:578.8px;top:495.6px;width:401.2px;height:0;border-top:4px solid #e7e7e7"></div>
<div class="abs" style="left:17.2px;top:69.6px;width:24.8px;height:24.8px;background:#fff;border:2.8px solid #dedede;border-radius:4px"></div>
<div class="t th" style="left:74.8px;top:70.4px">Запрос</div>
<div class="t th" style="left:415.6px;top:70.4px">Частота</div>
<svg class="abs" style="left:544.8px;top:72.4px" width="16.8" height="20" viewBox="0 0 5 6"><path d="M2.5 5.8V0.9M1.1 2.5L2.5 0.7L3.9 2.5" fill="none" stroke="#333" stroke-width="0.9"/></svg>
<div class="t th" style="left:578.8px;top:55.2px;width:288px;line-height:26.4px">Поисковая<br>система</div>
<svg class="abs" style="left:906px;top:72.4px" width="16.8" height="20" viewBox="0 0 5 6"><path d="M2.5 5.8V0.9M1.1 2.5L2.5 0.7L3.9 2.5" fill="none" stroke="#2a8a2a" stroke-width="0.9"/></svg>
<svg class="abs" style="left:931.6px;top:72.4px" width="16.8" height="20" viewBox="0 0 5 6"><path d="M2.5 0.2V5.1M1.1 3.5L2.5 5.3L3.9 3.5" fill="none" stroke="#c02a2a" stroke-width="0.9"/></svg>
<div class="t th" style="left:980px;top:37.6px;width:112.8px">Май</div>
<div class="t th" style="left:1092.8px;top:37.6px;width:113.2px">Апрель</div>
<div class="t th" style="left:1206px;top:37.6px;width:225.6px">Март</div>
<div class="t th" style="left:1431.6px;top:37.6px;width:112px">Январь</div>
<div class="t th" style="left:1543.6px;top:37.6px;width:120.8px">Декабрь</div>
<div class="t th" style="left:1664.4px;top:37.6px;width:117.6px">Ноябрь</div>
<div class="t th" style="left:1782px;top:37.6px;width:124px">Октябрь</div>
<div class="t th" style="left:1906px;top:37.6px;width:113.6px">Август</div>
<div class="t th" style="left:2019.6px;top:37.6px;width:108.8px">Июль</div>
<div class="t th" style="left:2128.4px;top:37.6px;width:110.4px">Июнь</div>
<div class="t th" style="left:980px;top:104.8px;width:112.8px;font-size:27.2px;letter-spacing:1.2px;color:#222"><span style="color:#d8262c">Я</span>/15</div>
<div class="t th" style="left:1092.8px;top:104.8px;width:113.2px;font-size:27.2px;letter-spacing:1.2px;color:#222"><span style="color:#d8262c">Я</span>/30</div>
<div class="t th" style="left:1206px;top:104.8px;width:112px;font-size:27.2px;letter-spacing:1.2px;color:#222"><span style="color:#d8262c">Я</span>/30</div>
<div class="t th" style="left:1318px;top:104.8px;width:113.6px;font-size:27.2px;letter-spacing:1.2px;color:#222"><span style="color:#d8262c">Я</span>/1</div>
<div class="t th" style="left:1431.6px;top:104.8px;width:112px;font-size:27.2px;letter-spacing:1.2px;color:#222"><span style="color:#d8262c">Я</span>/31</div>
<div class="t th" style="left:1543.6px;top:104.8px;width:120.8px;font-size:27.2px;letter-spacing:1.2px;color:#222"><span style="color:#d8262c">Я</span>/18</div>
<div class="t th" style="left:1664.4px;top:104.8px;width:117.6px;font-size:27.2px;letter-spacing:1.2px;color:#222"><span style="color:#d8262c">Я</span>/19</div>
<div class="t th" style="left:1782px;top:104.8px;width:124px;font-size:27.2px;letter-spacing:1.2px;color:#222"><span style="color:#d8262c">Я</span>/21</div>
<div class="t th" style="left:1906px;top:104.8px;width:113.6px;font-size:27.2px;letter-spacing:1.2px;color:#222">26</div>
<div class="t th" style="left:2019.6px;top:104.8px;width:108.8px;font-size:27.2px;letter-spacing:1.2px;color:#222"><span style="color:#d8262c">Я</span>/28</div>
<div class="t th" style="left:2128.4px;top:104.8px;width:110.4px;font-size:27.2px;letter-spacing:1.2px;color:#222"><span style="color:#d8262c">Я</span>/1</div>
<div class="abs" style="left:17.2px;top:209.6px;width:24.8px;height:24.8px;background:#fff;border:2.8px solid #dedede;border-radius:4px"></div>
<div class="abs" style="left:17.2px;top:349.6px;width:24.8px;height:24.8px;background:#fff;border:2.8px solid #dedede;border-radius:4px"></div>
<div class="abs" style="left:74.8px;top:190px;font-size:26.4px;line-height:30.4px;color:#3a3a3a;white-space:nowrap;transform:scaleX(.917);transform-origin:0 0">деревометаллическая<br>опалубка</div>
<div class="abs" style="left:74.8px;top:332px;font-size:26.4px;line-height:30.4px;color:#3a3a3a;white-space:nowrap;transform:scaleX(.917);transform-origin:0 0">съемная опалубка для<br>фундамента</div>
<div class="t" style="left:394.8px;top:210.4px;width:184px;text-align:center;font-size:25.6px;color:#333">43</div>
<div class="t" style="left:394.8px;top:349.6px;width:184px;text-align:center;font-size:25.6px;color:#333">42</div>
<div class="t b" style="left:614.8px;top:163.6px;font-size:47.2px;color:#d8332f;font-family:'Liberation Serif',serif;transform:scaleX(.56);transform-origin:0 0">Я</div>
<div class="t" style="left:654.8px;top:175.6px;font-size:26.8px;color:#333;transform:scaleX(.925);transform-origin:0 0">ru/Москва</div>
<div class="t" style="left:921.2px;top:173.6px;font-size:25.6px;color:#c9b23a">-</div>
<svg class="abs" style="left:608.4px;top:235.6px" width="38.4" height="40" viewBox="0 0 20 20" preserveAspectRatio="none"><rect x="0.5" y="0.5" width="19" height="19" rx="2" fill="#fff"/><rect x="11.5" y="1" width="7.5" height="8.5" fill="#cb3a30"/><rect x="12" y="9.5" width="7" height="9.5" fill="#2f9444"/><rect x="2" y="14" width="10" height="5" fill="#ecc530"/><path d="M1.5 6.5C1.5 3 4 1 8 1h4v12.5H7C3.5 13.5 1.5 11 1.5 8z" fill="#2f62b8"/><ellipse cx="6.6" cy="7" rx="2.2" ry="2.6" fill="#fff"/><ellipse cx="5.6" cy="14.4" rx="3.4" ry="2.3" fill="#fff"/></svg>
<div class="t" style="left:654.8px;top:244.8px;font-size:26.8px;color:#333;transform:scaleX(.925);transform-origin:0 0">ru/Москва</div>
<svg class="abs" style="left:906.4px;top:246.4px" width="16.8" height="20" viewBox="0 0 5 6"><path d="M2.5 5.8V0.9M1.1 2.5L2.5 0.7L3.9 2.5" fill="none" stroke="#2a8a2a" stroke-width="0.9"/></svg>
<div class="t" style="left:934px;top:243.6px;font-size:25.6px;color:#6e966e">1</div>
<div class="t b" style="left:614.8px;top:301.6px;font-size:47.2px;color:#d8332f;font-family:'Liberation Serif',serif;transform:scaleX(.56);transform-origin:0 0">Я</div>
<div class="t" style="left:654.8px;top:313.6px;font-size:26.8px;color:#333;transform:scaleX(.925);transform-origin:0 0">ru/Москва</div>
<svg class="abs" style="left:906.4px;top:315.2px" width="16.8" height="20" viewBox="0 0 5 6"><path d="M2.5 5.8V0.9M1.1 2.5L2.5 0.7L3.9 2.5" fill="none" stroke="#2a8a2a" stroke-width="0.9"/></svg>
<div class="t" style="left:934px;top:312.8px;font-size:25.6px;color:#6e966e">3</div>
<svg class="abs" style="left:608.4px;top:373.6px" width="38.4" height="40" viewBox="0 0 20 20" preserveAspectRatio="none"><rect x="0.5" y="0.5" width="19" height="19" rx="2" fill="#fff"/><rect x="11.5" y="1" width="7.5" height="8.5" fill="#cb3a30"/><rect x="12" y="9.5" width="7" height="9.5" fill="#2f9444"/><rect x="2" y="14" width="10" height="5" fill="#ecc530"/><path d="M1.5 6.5C1.5 3 4 1 8 1h4v12.5H7C3.5 13.5 1.5 11 1.5 8z" fill="#2f62b8"/><ellipse cx="6.6" cy="7" rx="2.2" ry="2.6" fill="#fff"/><ellipse cx="5.6" cy="14.4" rx="3.4" ry="2.3" fill="#fff"/></svg>
<div class="t" style="left:654.8px;top:382.8px;font-size:26.8px;color:#333;transform:scaleX(.925);transform-origin:0 0">ru/Москва</div>
<svg class="abs" style="left:906.4px;top:384.4px" width="16.8" height="20" viewBox="0 0 5 6"><path d="M2.5 0.2V5.1M1.1 3.5L2.5 5.3L3.9 3.5" fill="none" stroke="#c02a2a" stroke-width="0.9"/></svg>
<div class="t" style="left:934px;top:381.6px;font-size:25.6px;color:#b85050">1</div>
<div class="t b" style="left:614.8px;top:439.6px;font-size:47.2px;color:#d8332f;font-family:'Liberation Serif',serif;transform:scaleX(.56);transform-origin:0 0">Я</div>
<div class="t" style="left:654.8px;top:451.6px;font-size:26.8px;color:#333;transform:scaleX(.925);transform-origin:0 0">ru/Москва</div>
<svg class="abs" style="left:906.4px;top:453.2px" width="16.8" height="20" viewBox="0 0 5 6"><path d="M2.5 5.8V0.9M1.1 2.5L2.5 0.7L3.9 2.5" fill="none" stroke="#2a8a2a" stroke-width="0.9"/></svg>
<div class="t" style="left:934px;top:450.8px;font-size:25.6px;color:#6e966e">1</div>
<div class="cell" style="left:980px;top:150.4px;width:112.8px;background:#98e492;border-right:2.8px solid rgba(255,255,255,.22);border-bottom:2.8px solid rgba(255,255,255,.3)">2</div>
<div class="cell" style="left:1092.8px;top:150.4px;width:113.2px;background:#98e492;border-right:2.8px solid rgba(255,255,255,.22);border-bottom:2.8px solid rgba(255,255,255,.3)">2</div>
<div class="cell" style="left:1206px;top:150.4px;width:112px;background:#98e492;border-right:2.8px solid rgba(255,255,255,.22);border-bottom:2.8px solid rgba(255,255,255,.3)">1</div>
<div class="cell" style="left:1318px;top:150.4px;width:113.6px;background:#98e492;border-right:2.8px solid rgba(255,255,255,.22);border-bottom:2.8px solid rgba(255,255,255,.3)">1</div>
<div class="cell" style="left:1431.6px;top:150.4px;width:112px;background:#98e492;border-right:2.8px solid rgba(255,255,255,.22);border-bottom:2.8px solid rgba(255,255,255,.3)">2</div>
<div class="cell" style="left:1543.6px;top:150.4px;width:120.8px;background:#98e492;border-right:2.8px solid rgba(255,255,255,.22);border-bottom:2.8px solid rgba(255,255,255,.3)">2</div>
<div class="cell" style="left:1664.4px;top:150.4px;width:117.6px;background:#98e492;border-right:2.8px solid rgba(255,255,255,.22);border-bottom:2.8px solid rgba(255,255,255,.3)">2</div>
<div class="cell" style="left:1782px;top:150.4px;width:124px;background:#98e492;border-right:2.8px solid rgba(255,255,255,.22);border-bottom:2.8px solid rgba(255,255,255,.3)">1</div>
<div class="cell" style="left:1906px;top:150.4px;width:113.6px;background:#98e492;border-right:2.8px solid rgba(255,255,255,.22);border-bottom:2.8px solid rgba(255,255,255,.3)">1</div>
<div class="cell" style="left:2019.6px;top:150.4px;width:108.8px;background:#98e492;border-right:2.8px solid rgba(255,255,255,.22);border-bottom:2.8px solid rgba(255,255,255,.3)">1</div>
<div class="cell" style="left:2128.4px;top:150.4px;width:110.4px;background:#98e492;border-right:2.8px solid rgba(255,255,255,.22);border-bottom:2.8px solid rgba(255,255,255,.3)"></div>
<div class="cell" style="left:980px;top:219.6px;width:112.8px;background:#c3d8c3;border-right:2.8px solid rgba(255,255,255,.22);border-bottom:2.8px solid rgba(255,255,255,.3)">6</div>
<div class="cell" style="left:1092.8px;top:219.6px;width:113.2px;background:#dee7eb;border-right:2.8px solid rgba(255,255,255,.22);border-bottom:2.8px solid rgba(255,255,255,.3)">10</div>
<div class="cell" style="left:1206px;top:219.6px;width:112px;background:#dee7eb;border-right:2.8px solid rgba(255,255,255,.22);border-bottom:2.8px solid rgba(255,255,255,.3)">10</div>
<div class="cell" style="left:1318px;top:219.6px;width:113.6px;background:#d5d2d6;border-right:2.8px solid rgba(255,255,255,.22);border-bottom:2.8px solid rgba(255,255,255,.3)">8</div>
<div class="cell" style="left:1431.6px;top:219.6px;width:112px;background:#dee7eb;border-right:2.8px solid rgba(255,255,255,.22);border-bottom:2.8px solid rgba(255,255,255,.3)">10</div>
<div class="cell" style="left:1543.6px;top:219.6px;width:120.8px;background:#c3d8c3;border-right:2.8px solid rgba(255,255,255,.22);border-bottom:2.8px solid rgba(255,255,255,.3)">6</div>
<div class="cell" style="left:1664.4px;top:219.6px;width:117.6px;background:#dee7eb;border-right:2.8px solid rgba(255,255,255,.22);border-bottom:2.8px solid rgba(255,255,255,.3)">10</div>
<div class="cell" style="left:1782px;top:219.6px;width:124px;background:#dfe3e8;border-right:2.8px solid rgba(255,255,255,.22);border-bottom:2.8px solid rgba(255,255,255,.3)">13</div>
<div class="cell" style="left:1906px;top:219.6px;width:113.6px;background:#d5d2d6;border-right:2.8px solid rgba(255,255,255,.22);border-bottom:2.8px solid rgba(255,255,255,.3)">8</div>
<div class="cell" style="left:2019.6px;top:219.6px;width:108.8px;background:#dcd5da;border-right:2.8px solid rgba(255,255,255,.22);border-bottom:2.8px solid rgba(255,255,255,.3)">8</div>
<div class="cell" style="left:2128.4px;top:219.6px;width:110.4px;background:#e4dde2;border-right:2.8px solid rgba(255,255,255,.22);border-bottom:2.8px solid rgba(255,255,255,.3)"></div>
<div class="cell" style="left:980px;top:288.4px;width:112.8px;background:#f4d9d9;border-right:2.8px solid rgba(255,255,255,.22);border-bottom:2.8px solid rgba(255,255,255,.3)">15</div>
<div class="cell" style="left:1092.8px;top:288.4px;width:113.2px;background:#f4e6e6;border-right:2.8px solid rgba(255,255,255,.22);border-bottom:2.8px solid rgba(255,255,255,.3)">11</div>
<div class="cell" style="left:1206px;top:288.4px;width:112px;background:#e3f0e0;border-right:2.8px solid rgba(255,255,255,.22);border-bottom:2.8px solid rgba(255,255,255,.3)">8</div>
<div class="cell" style="left:1318px;top:288.4px;width:113.6px;background:#f3e0e0;border-right:2.8px solid rgba(255,255,255,.22);border-bottom:2.8px solid rgba(255,255,255,.3)">14</div>
<div class="cell" style="left:1431.6px;top:288.4px;width:112px;background:#f2e3e3;border-right:2.8px solid rgba(255,255,255,.22);border-bottom:2.8px solid rgba(255,255,255,.3)">13</div>
<div class="cell" style="left:1543.6px;top:288.4px;width:120.8px;background:#f2dede;border-right:2.8px solid rgba(255,255,255,.22);border-bottom:2.8px solid rgba(255,255,255,.3)">14</div>
<div class="cell" style="left:1664.4px;top:288.4px;width:117.6px;background:#f4d8d8;border-right:2.8px solid rgba(255,255,255,.22);border-bottom:2.8px solid rgba(255,255,255,.3)">17</div>
<div class="cell" style="left:1782px;top:288.4px;width:124px;background:#f4d5d5;border-right:2.8px solid rgba(255,255,255,.22);border-bottom:2.8px solid rgba(255,255,255,.3)">22</div>
<div class="cell" style="left:1906px;top:288.4px;width:113.6px;background:#f4d9d9;border-right:2.8px solid rgba(255,255,255,.22);border-bottom:2.8px solid rgba(255,255,255,.3)">15</div>
<div class="cell" style="left:2019.6px;top:288.4px;width:108.8px;background:#f3e4e4;border-right:2.8px solid rgba(255,255,255,.22);border-bottom:2.8px solid rgba(255,255,255,.3)">12</div>
<div class="cell" style="left:2128.4px;top:288.4px;width:110.4px;background:#f3dede;border-right:2.8px solid rgba(255,255,255,.22);border-bottom:2.8px solid rgba(255,255,255,.3)"></div>
<div class="cell" style="left:980px;top:357.6px;width:112.8px;background:#a9d4a9;border-right:2.8px solid rgba(255,255,255,.22);border-bottom:2.8px solid rgba(255,255,255,.3)">4</div>
<div class="cell" style="left:1092.8px;top:357.6px;width:113.2px;background:#b3d9b3;border-right:2.8px solid rgba(255,255,255,.22);border-bottom:2.8px solid rgba(255,255,255,.3)">5</div>
<div class="cell" style="left:1206px;top:357.6px;width:112px;background:#b3d9b3;border-right:2.8px solid rgba(255,255,255,.22);border-bottom:2.8px solid rgba(255,255,255,.3)">5</div>
<div class="cell" style="left:1318px;top:357.6px;width:113.6px;background:#a9d4a9;border-right:2.8px solid rgba(255,255,255,.22);border-bottom:2.8px solid rgba(255,255,255,.3)">4</div>
<div class="cell" style="left:1431.6px;top:357.6px;width:112px;background:#a0d2a0;border-right:2.8px solid rgba(255,255,255,.22);border-bottom:2.8px solid rgba(255,255,255,.3)">3</div>
<div class="cell" style="left:1543.6px;top:357.6px;width:120.8px;background:#a0d2a0;border-right:2.8px solid rgba(255,255,255,.22);border-bottom:2.8px solid rgba(255,255,255,.3)">3</div>
<div class="cell" style="left:1664.4px;top:357.6px;width:117.6px;background:#98cf98;border-right:2.8px solid rgba(255,255,255,.22);border-bottom:2.8px solid rgba(255,255,255,.3)">2</div>
<div class="cell" style="left:1782px;top:357.6px;width:124px;background:#98cf98;border-right:2.8px solid rgba(255,255,255,.22);border-bottom:2.8px solid rgba(255,255,255,.3)">2</div>
<div class="cell" style="left:1906px;top:357.6px;width:113.6px;background:#98cf98;border-right:2.8px solid rgba(255,255,255,.22);border-bottom:2.8px solid rgba(255,255,255,.3)">2</div>
<div class="cell" style="left:2019.6px;top:357.6px;width:108.8px;background:#98cf98;border-right:2.8px solid rgba(255,255,255,.22);border-bottom:2.8px solid rgba(255,255,255,.3)">2</div>
<div class="cell" style="left:2128.4px;top:357.6px;width:110.4px;background:#98cf98;border-right:2.8px solid rgba(255,255,255,.22);border-bottom:2.8px solid rgba(255,255,255,.3)"></div>
<div class="cell" style="left:980px;top:426.4px;width:112.8px;background:#b4ecb0;border-right:2.8px solid rgba(255,255,255,.22);border-bottom:2.8px solid rgba(255,255,255,.3)">6</div>
<div class="cell" style="left:1092.8px;top:426.4px;width:113.2px;background:#aeeaa9;border-right:2.8px solid rgba(255,255,255,.22);border-bottom:2.8px solid rgba(255,255,255,.3)">5</div>
<div class="cell" style="left:1206px;top:426.4px;width:112px;background:#b4ecb0;border-right:2.8px solid rgba(255,255,255,.22);border-bottom:2.8px solid rgba(255,255,255,.3)">6</div>
<div class="cell" style="left:1318px;top:426.4px;width:113.6px;background:#b4ecb0;border-right:2.8px solid rgba(255,255,255,.22);border-bottom:2.8px solid rgba(255,255,255,.3)">6</div>
<div class="cell" style="left:1431.6px;top:426.4px;width:112px;background:#aeeaa9;border-right:2.8px solid rgba(255,255,255,.22);border-bottom:2.8px solid rgba(255,255,255,.3)">5</div>
<div class="cell" style="left:1543.6px;top:426.4px;width:120.8px;background:#a8e8a3;border-right:2.8px solid rgba(255,255,255,.22);border-bottom:2.8px solid rgba(255,255,255,.3)">4</div>
<div class="cell" style="left:1664.4px;top:426.4px;width:117.6px;background:#aeeaa9;border-right:2.8px solid rgba(255,255,255,.22);border-bottom:2.8px solid rgba(255,255,255,.3)">5</div>
<div class="cell" style="left:1782px;top:426.4px;width:124px;background:#b4ecb0;border-right:2.8px solid rgba(255,255,255,.22);border-bottom:2.8px solid rgba(255,255,255,.3)">6</div>
<div class="cell" style="left:1906px;top:426.4px;width:113.6px;background:#b4ecb0;border-right:2.8px solid rgba(255,255,255,.22);border-bottom:2.8px solid rgba(255,255,255,.3)">6</div>
<div class="cell" style="left:2019.6px;top:426.4px;width:108.8px;background:#b4ecb0;border-right:2.8px solid rgba(255,255,255,.22);border-bottom:2.8px solid rgba(255,255,255,.3)">6</div>
<div class="cell" style="left:2128.4px;top:426.4px;width:110.4px;background:#b4ecb0;border-right:2.8px solid rgba(255,255,255,.22);border-bottom:2.8px solid rgba(255,255,255,.3)"></div>
</div>
<svg class="abs" style="left:2448px;top:1720px;opacity:.6;filter:drop-shadow(0 0 3.6px rgba(0,0,0,.55))" width="400" height="128" viewBox="0 0 100 32"><circle cx="9.7" cy="20.8" r="6.3" fill="#fff"/><circle cx="11" cy="9.2" r="2.8" fill="#fff"/><circle cx="20.5" cy="8.7" r="5" fill="#fff"/><circle cx="22.2" cy="20.8" r="4" fill="#fff"/><text x="31.2" y="25.3" font-family="Liberation Sans,sans-serif" font-weight="bold" font-size="27" fill="#fff" stroke="#fff" stroke-width="0.7" letter-spacing="-0.55">Avito</text></svg>
</div></div></div>
</body></html>
